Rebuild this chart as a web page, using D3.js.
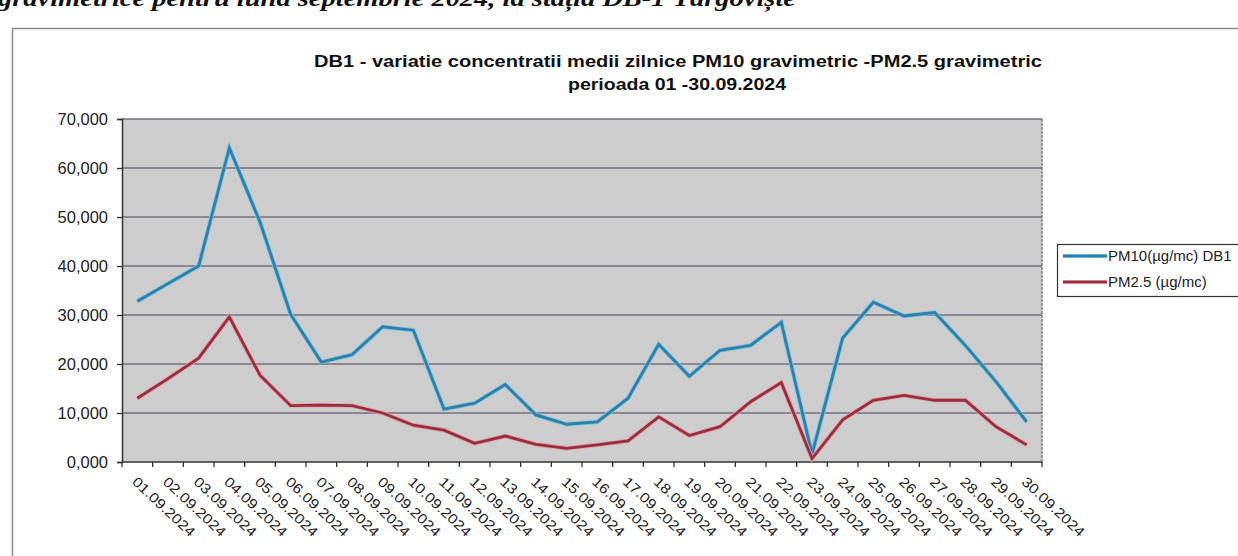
<!DOCTYPE html>
<html>
<head>
<meta charset="utf-8">
<script src="https://cdn.jsdelivr.net/npm/d3@7"></script>
<style>
  body { margin: 0; background: #fff; }
  svg { display: block; }
  .ylab, .xlab { font-family: "Liberation Sans", Arial, sans-serif; font-size: 16.5px; fill: #222; }
  .xlab { font-size: 14px; }
  .title { font-family: "Liberation Sans", Arial, sans-serif; font-size: 16px; font-weight: bold; fill: #111; }
  .legtext { font-family: "Liberation Sans", Arial, sans-serif; font-size: 15px; fill: #222; }
  .heading { font-family: "Liberation Serif", "Times New Roman", serif; font-size: 23px; font-weight: bold; font-style: italic; fill: #111; }
</style>
</head>
<body>
<div id="chart"></div>
<script>
// daily averages
const days = ["01.09.2024", "02.09.2024", "03.09.2024", "04.09.2024", "05.09.2024",
  "06.09.2024", "07.09.2024", "08.09.2024", "09.09.2024", "10.09.2024",
  "11.09.2024", "12.09.2024", "13.09.2024", "14.09.2024", "15.09.2024",
  "16.09.2024", "17.09.2024", "18.09.2024", "19.09.2024", "20.09.2024",
  "21.09.2024", "22.09.2024", "23.09.2024", "24.09.2024", "25.09.2024",
  "26.09.2024", "27.09.2024", "28.09.2024", "29.09.2024", "30.09.2024"];

const pm10 = [32.8, 36.4, 40.0, 64.1, 49.0, 30.1, 20.4, 21.9, 27.6, 26.9,
  10.8, 12.0, 15.8, 9.6, 7.7, 8.2, 13.0, 24.0, 17.5, 22.8,
  23.8, 28.5, 1.6, 25.3, 32.6, 29.8, 30.5, 23.8, 16.4, 8.2];

const pm25 = [13.0, 17.0, 21.2, 29.6, 17.7, 11.5, 11.6, 11.5, 10.0, 7.5,
  6.5, 3.8, 5.3, 3.6, 2.8, 3.5, 4.3, 9.2, 5.4, 7.2,
  12.3, 16.2, 0.7, 8.6, 12.6, 13.6, 12.6, 12.6, 7.2, 3.5];

const yTicks = [0, 10, 20, 30, 40, 50, 60, 70];

const seriesNames = ["PM10(µg/mc) DB1", "PM2.5 (µg/mc)"];

const svg = d3.select("#chart")
  .append("svg")
  .attr("width", 1238)
  .attr("height", 556);

// romanian number format: 70,000
const ro = d3.formatLocale({ decimal: ",", thousands: ".", grouping: [3], currency: ["", " lei"] });
const fmt = ro.format(".3f");

// heading of the page above, cut by the scan
svg.append("text")
  .attr("class", "heading")
  .attr("x", -2)
  .attr("y", 6)
  .attr("textLength", 798)
  .attr("lengthAdjust", "spacingAndGlyphs")
  .text("gravimetrice pentru luna septembrie 2024, la stația DB-1 Târgoviște");

// outer frame of the chart object
svg.append("path")
  .attr("d", "M12.5,556 V28.5 H1238")
  .attr("fill", "none")
  .attr("stroke", "#8d8a94")
  .attr("stroke-width", 1.5);

const x = d3.scaleBand().domain(days).range([122, 1042]);
const y = d3.scaleLinear().domain([0, 70]).range([462, 119]);

// plot area
svg.append("rect")
  .attr("x", x.range()[0])
  .attr("y", y(70))
  .attr("width", x.range()[1] - x.range()[0])
  .attr("height", y(0) - y(70))
  .attr("fill", "#cdcdcd");

// gridlines
svg.selectAll("line.grid")
  .data(yTicks.filter(d => d > 0))
  .enter()
  .append("line")
    .attr("class", "grid")
    .attr("x1", x.range()[0])
    .attr("x2", x.range()[1])
    .attr("y1", d => y(d))
    .attr("y2", d => y(d))
    .attr("stroke", "#736e80")
    .attr("stroke-width", 1.4);

// right border
svg.append("line")
  .attr("x1", x.range()[1]).attr("x2", x.range()[1])
  .attr("y1", y(70)).attr("y2", y(0))
  .attr("stroke", "#6a6a6a")
  .attr("stroke-width", 1.3)
  .attr("stroke-dasharray", "3,1");

// y axis
const yAxis = d3.axisLeft(y)
  .tickValues(yTicks)
  .tickSize(5)
  .tickFormat(fmt);

const gy = svg.append("g")
  .attr("transform", `translate(${x.range()[0]},0)`)
  .call(yAxis);
gy.attr("font-size", null).attr("font-family", null);
gy.select(".domain").attr("stroke", "#333").attr("stroke-width", 1.5);
gy.selectAll(".tick line").attr("stroke", "#333").attr("stroke-width", 1.3);
gy.selectAll(".tick text")
  .attr("class", "ylab")
  .attr("x", -14)
  .attr("dy", "0.35em");

// x axis, ticks between categories as in excel
const gx = svg.append("g")
  .attr("transform", `translate(0,${y(0)})`);

gx.append("line")
  .attr("x1", x.range()[0]).attr("x2", x.range()[1])
  .attr("stroke", "#333")
  .attr("stroke-width", 1.5);

gx.selectAll("line.xtick")
  .data(days.concat(["end"]))
  .enter()
  .append("line")
    .attr("class", "xtick")
    .attr("x1", (d, i) => x.range()[0] + i * x.bandwidth())
    .attr("x2", (d, i) => x.range()[0] + i * x.bandwidth())
    .attr("y1", 0)
    .attr("y2", 5)
    .attr("stroke", "#333")
    .attr("stroke-width", 1.3);

// labels are stretched along the baseline, like the scanned page
gx.selectAll("text.xlab")
  .data(days)
  .enter()
  .append("text")
    .attr("class", "xlab")
    .attr("textLength", 80)
    .attr("lengthAdjust", "spacingAndGlyphs")
    .attr("transform", d => `translate(${x(d) + x.bandwidth() / 2 - 6},${21}) rotate(43)`)
    .text(d => d);

// series lines
const line = d3.line()
  .x((d, i) => x(days[i]) + x.bandwidth() / 2)
  .y(d => y(d));

const series = [
  { values: pm10, halo: "#78c8e2", color: "#2f7fab" },
  { values: pm25, halo: "#e3a0a8", color: "#9a2d3e" }
];

series.forEach(s => {
  svg.append("path")
    .attr("d", line(s.values))
    .attr("fill", "none")
    .attr("stroke", s.halo)
    .attr("stroke-width", 4.4)
    .attr("stroke-linejoin", "miter");
  svg.append("path")
    .attr("d", line(s.values))
    .attr("fill", "none")
    .attr("stroke", s.color)
    .attr("stroke-width", 2.8)
    .attr("stroke-linejoin", "miter");
});

// title, stretched like the scan
const title = svg.append("text")
  .attr("class", "title")
  .attr("text-anchor", "middle");
title.append("tspan").attr("x", 678).attr("y", 67)
  .attr("textLength", 728)
  .attr("lengthAdjust", "spacingAndGlyphs")
  .text("DB1 - variatie concentratii medii zilnice  PM10 gravimetric -PM2.5 gravimetric");
title.append("tspan").attr("x", 677).attr("y", 90)
  .attr("textLength", 218)
  .attr("lengthAdjust", "spacingAndGlyphs")
  .text("perioada 01 -30.09.2024");

// legend, clipped by the right edge
const leg = svg.append("g").attr("transform", "translate(1057,244)");
leg.append("rect")
  .attr("x", 0.5).attr("y", 0.5)
  .attr("width", 200).attr("height", 52)
  .attr("fill", "#fff")
  .attr("stroke", "#333")
  .attr("stroke-width", 1.2);

leg.selectAll("g.item")
  .data(series)
  .enter()
  .append("g")
    .attr("class", "item")
    .attr("transform", (d, i) => `translate(6,${12 + i * 26})`)
    .each(function (d, i) {
      const g = d3.select(this);
      g.append("line").attr("x1", 0).attr("x2", 44)
        .attr("stroke", d.halo).attr("stroke-width", 4.2);
      g.append("line").attr("x1", 0).attr("x2", 44)
        .attr("stroke", d.color).attr("stroke-width", 2.6);
      g.append("text")
        .attr("class", "legtext")
        .attr("x", 45)
        .attr("dy", "0.35em")
        .text(seriesNames[i]);
    });
</script>
</body>
</html>
